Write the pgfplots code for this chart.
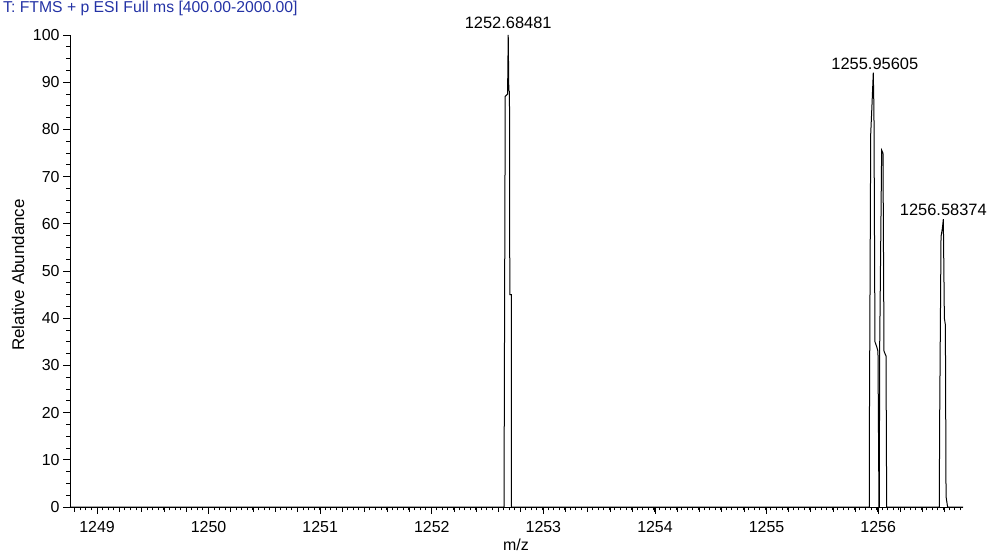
\documentclass[border=0pt]{standalone}
\usepackage{pgfplots}
\pgfplotsset{compat=1.18}
\usepackage{fontspec}
\setmainfont{Liberation Sans}
\definecolor{titleblue}{RGB}{35,50,165}
\begin{document}
\begin{tikzpicture}
\useasboundingbox (-70bp,-49bp) rectangle (918bp,507bp);
\begin{axis}[
  scale only axis,
  width=893bp, height=472bp,
  xmin=1248.758, xmax=1256.760,
  ymin=0, ymax=100,
  axis x line*=bottom, axis y line*=left,
  axis line style={line width=0.8bp},
  tick align=outside,
  xtick={1249,1250,...,1256},
  ytick={0,10,...,100},
  minor xtick={1248.80,1248.85,...,1256.75},
  extra x ticks={1248.8,1249.0,...,1256.6},
  extra x tick labels={},
  extra x tick style={major tick length=5bp},
  major tick length=7bp, minor tick length=3.5bp,
  tick style={black, line width=0.8bp},
  ticklabel style={font=\fontsize{16}{16}\selectfont},
  /pgf/number format/assume math mode=true,
  /pgf/number format/1000 sep={},
  xticklabel style={yshift=-4bp},
  clip=false,
]
\addplot[black, line width=1bp, sharp plot] coordinates {
(1248.758,0)
(1252.648,0) (1252.649,15.7) (1252.658,87) (1252.679,87.5) (1252.6848,100)
(1252.690,88.3) (1252.696,88) (1252.699,45) (1252.712,45) (1252.713,0)
(1255.920,0) (1255.922,21) (1255.933,79) (1255.944,85) (1255.956,92)
(1255.962,84) (1255.971,35) (1255.986,34) (1255.998,33) (1256.007,0)
(1256.010,0) (1256.013,33) (1256.031,75.6) (1256.043,75) (1256.052,33)
(1256.070,32) (1256.076,0)
(1256.548,0) (1256.550,15.7) (1256.563,57.3) (1256.575,59) (1256.58374,61)
(1256.593,40) (1256.602,38.6) (1256.608,2.2) (1256.622,0)
(1256.760,0)
};
\node[anchor=south, inner sep=1bp, font=\fontsize{16.5}{16.5}\selectfont] at (axis cs:1252.68481,101) {1252.68481};
\node[anchor=south, inner sep=1bp, font=\fontsize{16.5}{16.5}\selectfont] at (axis cs:1255.97,92.5) {1255.95605};
\node[anchor=south, inner sep=1bp, font=\fontsize{16.5}{16.5}\selectfont] at (axis cs:1256.58374,61.5) {1256.58374};
\end{axis}
\foreach \v in {2.5,5,7.5,12.5,15,17.5,22.5,25,27.5,32.5,35,37.5,42.5,45,47.5,52.5,55,57.5,62.5,65,67.5,72.5,75,77.5,82.5,85,87.5,92.5,95,97.5}{
  \draw[black, line width=0.8bp] (0bp,{\v*4.72bp}) -- (-4bp,{\v*4.72bp});
}
\node[anchor=west, text=titleblue, inner sep=0pt, font=\fontsize{15.8}{15.8}\selectfont] at (-67bp,499bp) {T: FTMS + p ESI Full ms [400.00-2000.00]};
\node[rotate=90, anchor=center, inner sep=0pt, font=\fontsize{17}{17}\selectfont] at (-52bp,232bp) {Relative Abundance};
\node[anchor=center, inner sep=0pt, font=\fontsize{16}{16}\selectfont] at (446bp,-38bp) {m/z};
\end{tikzpicture}
\end{document}
